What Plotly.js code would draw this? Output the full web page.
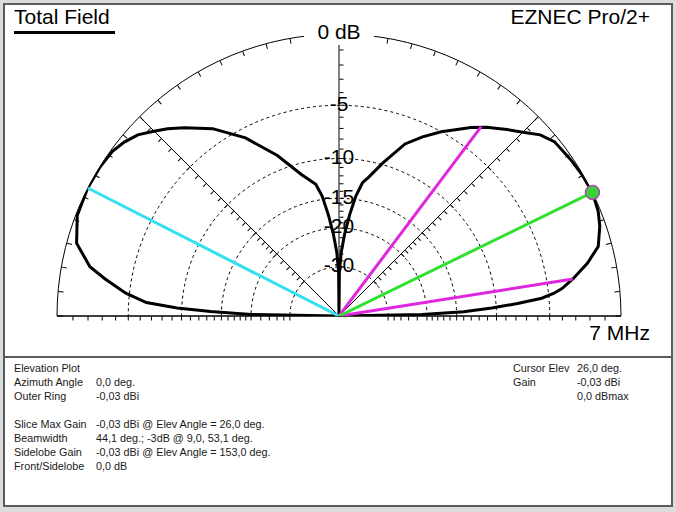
<!DOCTYPE html>
<html>
<head>
<meta charset="utf-8">
<script src="https://cdn.plot.ly/plotly-3.0.1.min.js"></script>
<style>
  html, body { margin: 0; padding: 0; }
  body { width: 676px; height: 512px; background: #dcdcdc; position: relative; overflow: hidden;
         font-family: "Liberation Sans", Arial, sans-serif; }
  #frame { position: absolute; left: 3px; top: 3px; width: 670px; height: 504px; box-sizing: border-box;
           border: 2px solid #5c5c5c; background: #ffffff; }
  #sep { position: absolute; left: 3px; top: 356px; width: 670px; height: 2px; background: #5c5c5c; }
  #plot { position: absolute; left: 0; top: 0; width: 676px; height: 356px; }
  .big { position: absolute; font-size: 21px; line-height: 21px; color: #000; white-space: nowrap; }
  #uline { position: absolute; left: 14px; top: 31px; width: 101px; height: 3px; background: #000; }
  .col { position: absolute; top: 361px; font-size: 10.8px; line-height: 14px; color: #1a1a1a; white-space: pre; }
</style>
</head>
<body>
<div id="frame"></div>
<div id="sep"></div>
<div id="plot"></div>
<div class="big" id="t1" style="left:14px; top:6px;"></div>
<div id="uline"></div>
<div class="big" id="t2" style="right:26px; top:6px;"></div>
<div class="big" id="t3" style="right:26px; top:322px;"></div>
<div class="col" id="c1" style="left:14px;"></div>
<div class="col" id="c2" style="left:96px;"></div>
<div class="col" id="c3" style="left:513px;"></div>
<div class="col" id="c4" style="left:577px;"></div>
<script>
// ---- texts ----
const titleText = 'Total Field';
const programText = 'EZNEC Pro/2+';
const freqText = '7 MHz';
const infoLabels = ['Elevation Plot', 'Azimuth Angle', 'Outer Ring', '', 'Slice Max Gain', 'Beamwidth', 'Sidelobe Gain', 'Front/Sidelobe'];
const infoValues = ['', '0,0 deg.', '-0,03 dBi', '', '-0,03 dBi @ Elev Angle = 26,0 deg.', '44,1 deg.; -3dB @ 9,0, 53,1 deg.', '-0,03 dBi @ Elev Angle = 153,0 deg.', '0,0 dB'];
const cursorLabels = ['Cursor Elev', 'Gain', ''];
const cursorValues = ['26,0 deg.', '-0,03 dBi', '0,0 dBmax'];

// ---- pattern data (elevation angle in degrees, relative gain in dB; -100 = null) ----
const patternAngles = [0, 1, 2, 3, 4, 5, 6, 7, 9, 12, 15, 19, 22, 26, 30, 34, 39, 42, 45, 48, 52, 55, 58, 61, 65, 69, 74, 78, 80, 82, 84, 86, 88, 89.5, 90,
                       90.5, 92, 94, 96, 98, 100, 105, 111, 117.7, 124, 129.4, 132.5, 135.5, 138, 141, 144, 148, 153, 159, 164.5, 168.8, 171, 173.9, 176, 177.2, 178, 179, 180];
const patternDb = [-100, -21, -14, -10.5, -7.8, -5.6, -4.6, -3.9, -3.0, -1.8, -0.85, -0.38, -0.15, 0, -0.05, -0.15, -0.3, -0.7, -1.4, -2.0, -2.8, -3.5, -4.3, -5.0, -6.1, -7.3, -9.8, -11.8, -12.6, -14.5, -17.5, -21, -25.5, -32, -100,
                   -32, -25.5, -21, -17.5, -14.5, -12.8, -11.2, -8.5, -5.8, -3.8, -2.5, -1.8, -1.2, -0.7, -0.35, -0.12, -0.02, 0, -0.1, -0.6, -1.8, -3.0, -4.7, -6.5, -9.5, -13.5, -20, -100];

// cursor / markers
const cursorElev = 26.0;
const cursorDb = 0.0;
const sidelobeElev = 153.0;
const sidelobeDb = 0.0;
const beamAngles = [9.0, 53.1];
const beamDb = -3;

// ---- scale: ARRL log (0.89 per 2 dB) ----
const ringDb = [-5, -10, -15, -20, -30];
const labelDb = [0, -5, -10, -15, -20, -30];
const labelText = ['0 dB', '-5', '-10', '-15', '-20', '-30'];
const tickDb = [-1, -2, -3, -4, -5, -6, -7, -8, -9, -10, -11, -12, -13, -14, -15, -16, -17, -18, -19, -20, -22, -24, -26, -28, -30];
const gridAngles = [0, 45, 90, 135, 180];
const rimTickStep = 5;

function arrl(db) { return Math.pow(0.89, -db / 2); }

const rimTicks = [];
for (let a = 0; a <= 180; a += rimTickStep) rimTicks.push(a);

document.getElementById('t1').textContent = titleText;
document.getElementById('t2').textContent = programText;
document.getElementById('t3').textContent = freqText;
document.getElementById('c1').textContent = infoLabels.join('\n');
document.getElementById('c2').textContent = infoValues.join('\n');
document.getElementById('c3').textContent = cursorLabels.join('\n');
document.getElementById('c4').textContent = cursorValues.join('\n');

const FONT = '"Liberation Sans", Arial, sans-serif';
const dom = { x: [57 / 676, 621 / 676], y: [40 / 356, 322 / 356] };
const tickR = tickDb.map(arrl);

function overlay(angle, side, rim) {
  return {
    domain: dom, sector: [0, 180], bgcolor: 'rgba(0,0,0,0)',
    radialaxis: { range: [0, 1], angle: angle, side: side, tickvals: tickR, ticks: 'outside', ticklen: 4,
                  tickwidth: 1, tickcolor: '#000', showline: false, showgrid: false, showticklabels: false },
    angularaxis: { rotation: 0, direction: 'counterclockwise', showgrid: false, showline: false,
                   showticklabels: false, tickvals: rim ? rimTicks : [], ticks: rim ? 'inside' : '',
                   ticklen: 5, tickwidth: 1, tickcolor: '#000' }
  };
}

const traces = [
  { type: 'scatterpolar', subplot: 'polar', mode: 'lines', r: patternDb.map(arrl), theta: patternAngles,
    line: { color: '#000000', width: 3 }, hoverinfo: 'skip' },
  { type: 'scatterpolar', subplot: 'polar2', mode: 'lines', r: [0, arrl(sidelobeDb)], theta: [sidelobeElev, sidelobeElev],
    line: { color: '#33e0ee', width: 3 }, hoverinfo: 'skip' },
  { type: 'scatterpolar', subplot: 'polar3', mode: 'lines', r: [0, arrl(beamDb)], theta: [beamAngles[0], beamAngles[0]],
    line: { color: '#e026e0', width: 3 }, hoverinfo: 'skip' },
  { type: 'scatterpolar', subplot: 'polar4', mode: 'lines', r: [0, arrl(beamDb)], theta: [beamAngles[1], beamAngles[1]],
    line: { color: '#e026e0', width: 3 }, hoverinfo: 'skip' },
  { type: 'scatterpolar', subplot: 'polar5', mode: 'lines', r: [0, arrl(cursorDb)], theta: [cursorElev, cursorElev],
    line: { color: '#2fe02f', width: 3 }, hoverinfo: 'skip' },
  { type: 'scatterpolar', subplot: 'polar6', mode: 'markers', r: [arrl(cursorDb)], theta: [cursorElev],
    marker: { size: 14, color: '#36d236', line: { color: '#b048b0', width: 1.5 } }, hoverinfo: 'skip', cliponaxis: false },
  // white backing behind the outer-ring label
  { type: 'scatterpolar', subplot: 'polar6', mode: 'markers', r: [arrl(labelDb[0])], theta: [90],
    marker: { symbol: 'line-ew', size: 50, line: { color: '#ffffff', width: 22 } }, hoverinfo: 'skip', cliponaxis: false },
  { type: 'scatterpolar', subplot: 'polar6', mode: 'text', r: labelDb.map(arrl), theta: labelDb.map(() => 90),
    text: labelText, textposition: 'middle center', textfont: { size: 21, color: '#000', family: FONT },
    hoverinfo: 'skip', cliponaxis: false }
];

const layout = {
  width: 676, height: 356, margin: { l: 0, r: 0, t: 0, b: 0 },
  paper_bgcolor: 'rgba(0,0,0,0)', showlegend: false, font: { family: FONT },
  polar: {
    domain: dom, sector: [0, 180], bgcolor: 'rgba(0,0,0,0)',
    radialaxis: { range: [0, 1], angle: 90, tickvals: ringDb.map(arrl), showticklabels: false, ticks: '',
                  showline: false, showgrid: true, gridcolor: '#000', gridwidth: 1, griddash: '3px,3px' },
    angularaxis: { rotation: 0, direction: 'counterclockwise', tickvals: gridAngles, showticklabels: false, ticks: '',
                   showline: true, linecolor: '#000', linewidth: 1, showgrid: true, gridcolor: '#000', gridwidth: 1 }
  },
  polar2: overlay(90, 'clockwise', true),
  polar3: overlay(0, 'clockwise', false),
  polar4: overlay(180, 'counterclockwise', false),
  polar5: overlay(45, 'clockwise', false),
  polar6: overlay(135, 'counterclockwise', false)
};

Plotly.newPlot('plot', traces, layout, { staticPlot: true, displayModeBar: false });
</script>
</body>
</html>
